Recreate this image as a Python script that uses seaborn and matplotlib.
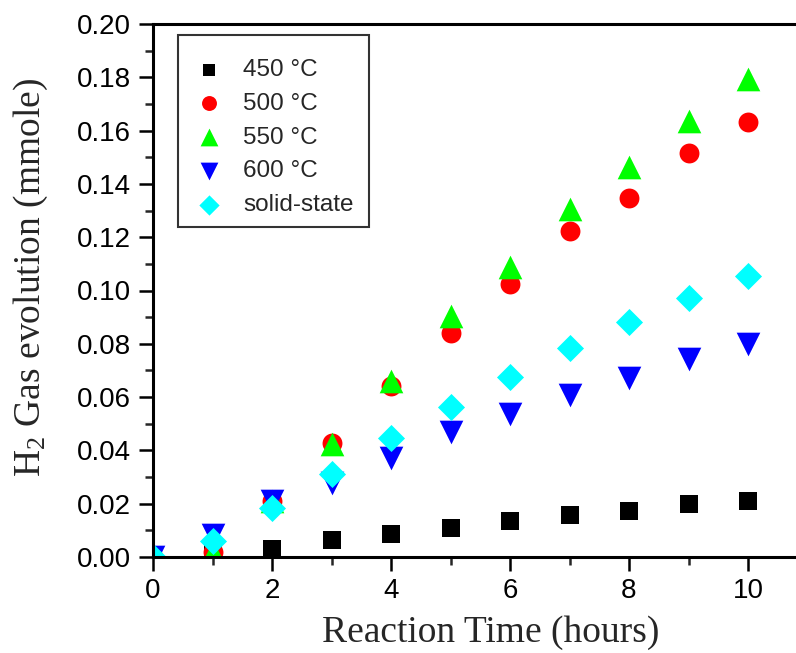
import matplotlib
matplotlib.use("Agg")
import matplotlib.pyplot as plt
import seaborn as sns
import numpy as np
import pandas as pd
from matplotlib.ticker import MultipleLocator
from matplotlib.patches import Rectangle

hours = [0, 1, 2, 3, 4, 5, 6, 7, 8, 9, 10]
h2_450 = [0.0, 0.001, 0.003, 0.0065, 0.0088, 0.011, 0.0135, 0.0159, 0.0173, 0.0199, 0.0209]
h2_500 = [0.0, 0.002, 0.021, 0.0426, 0.064, 0.0839, 0.1023, 0.1223, 0.1348, 0.1515, 0.1632]
h2_550 = [0.0, 0.002, 0.021, 0.0424, 0.066, 0.0905, 0.1087, 0.1307, 0.1462, 0.1635, 0.1794]
h2_600 = [0.0, 0.0081, 0.021, 0.0276, 0.0373, 0.0468, 0.0537, 0.0607, 0.067, 0.0742, 0.0801]
h2_solid = [0.0, 0.0059, 0.0182, 0.0313, 0.0447, 0.0563, 0.0676, 0.0783, 0.0881, 0.097, 0.1054]

labels = ["450 °C", "500 °C", "550 °C", "600 °C", "solid-state"]
series = [h2_450, h2_500, h2_550, h2_600, h2_solid]
colors = ["#000000", "#ff0000", "#00ff00", "#0000ff", "#00ffff"]
markers = ["s", "o", "^", "v", "D"]
sizes = [150, 205, 290, 290, 190]

sns.set_style("ticks")
plt.rcParams["font.family"] = ["Liberation Sans", "DejaVu Sans"]
plt.rcParams["mathtext.fontset"] = "custom"
plt.rcParams["mathtext.rm"] = "Liberation Serif"
plt.rcParams["mathtext.it"] = "Liberation Serif:italic"

fig = plt.figure(figsize=(7.96, 6.53), dpi=100)
ax = fig.add_axes([153 / 796, 1 - 557 / 653, (807.5 - 153) / 796, (557 - 24) / 653])

for lab, vals, c, m, s in zip(labels, series, colors, markers, sizes):
    df = pd.DataFrame({"t": hours, "y": vals})
    sns.scatterplot(data=df, x="t", y="y", marker=m, color=c, s=s,
                    linewidth=0, edgecolor=c, ax=ax, label=lab)

ax.set_xlim(0, 11)
ax.set_ylim(0, 0.20)
ax.xaxis.set_minor_locator(MultipleLocator(1))
ax.yaxis.set_minor_locator(MultipleLocator(0.01))
yt = np.arange(0, 0.2001, 0.02)
ax.set_yticks(yt)
ax.set_yticklabels([f"{v:.2f}" for v in yt])
ax.set_xticks([0, 2, 4, 6, 8, 10])
ax.set_xticklabels(["0", "2", "4", "6", "8", "10"])

ax.tick_params(which="major", direction="out", length=10, width=1.8, labelsize=20, colors="black")
ax.tick_params(axis="y", which="major", pad=6)
ax.tick_params(axis="x", which="major", pad=5)
ax.tick_params(which="minor", direction="out", length=6, width=1.8)
for sp in ax.spines.values():
    sp.set_linewidth(2.2)
    sp.set_color("black")
ax.spines["right"].set_visible(False)

ax.set_xlabel("Reaction Time (hours)", family=["Liberation Serif"], fontsize=27, labelpad=8)
ax.set_ylabel("H$_2$ Gas evolution (mmole)", family=["Liberation Serif"], fontsize=27, labelpad=19)
ax.xaxis.label.set_x(0.516)
ax.yaxis.label.set_y(0.525)

# legend box
ax.add_patch(Rectangle((0.0382, 0.619), 0.330 - 0.0382, 0.9794 - 0.619,
                       transform=ax.transAxes, fill=True, facecolor="white",
                       edgecolor="#333333", linewidth=1.5, zorder=4))
leg = ax.legend(loc="upper left", bbox_to_anchor=(0.068, 0.934), borderaxespad=0,
                borderpad=0, fontsize=17.5, frameon=False, markerscale=0.75,
                labelspacing=0.48, handletextpad=0.93, handlelength=0.94)
leg.set_zorder(5)

fig.savefig("out.png", dpi=100)
